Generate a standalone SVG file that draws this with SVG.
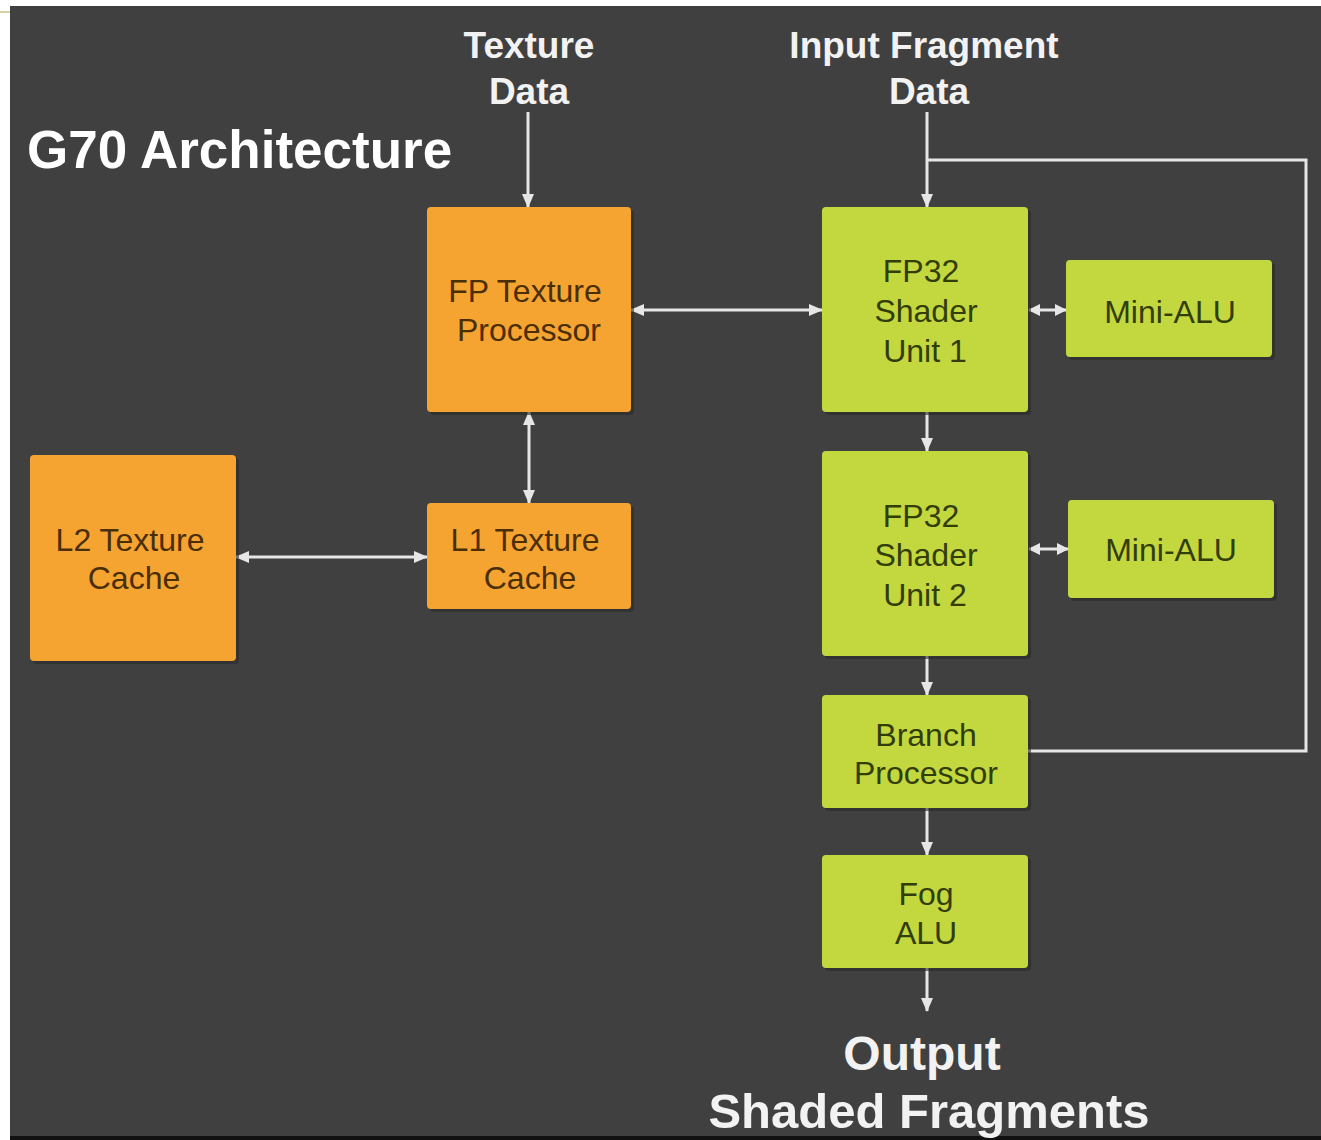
<svg xmlns="http://www.w3.org/2000/svg" width="1321" height="1140" viewBox="0 0 1321 1140">
<style>
.box-o{fill:#f6a431}
.box-g{fill:#c3d83f}
.shadow{fill:#2a2a2a;opacity:0.6}
.t-o{font-family:"Liberation Sans",Arial,sans-serif;font-size:32px;fill:#4a2f06;text-anchor:middle}
.t-g{font-family:"Liberation Sans",Arial,sans-serif;font-size:32px;fill:#323d08;text-anchor:middle}
.lbl{font-family:"Liberation Sans",Arial,sans-serif;font-weight:bold;fill:#f2f2f2;text-anchor:middle}
.conn{stroke:#e6e6e6;stroke-width:3;fill:none}
</style>
<defs>
<marker id="ah" viewBox="0 0 14 12" refX="13" refY="6" markerWidth="14" markerHeight="12" markerUnits="userSpaceOnUse" orient="auto-start-reverse">
<path d="M0,0 L14,6 L0,12 z" fill="#e6e6e6"/>
</marker>
<marker id="ahs" viewBox="0 0 12 12" refX="11" refY="6" markerWidth="12" markerHeight="12" markerUnits="userSpaceOnUse" orient="auto-start-reverse">
<path d="M0,0 L12,6 L0,12 z" fill="#e6e6e6"/>
</marker>
</defs>
<rect x="0" y="0" width="1321" height="1140" fill="#ffffff"/>
<rect x="10" y="6" width="1311" height="1131" fill="#404040"/>
<rect x="10" y="1136" width="1311" height="4" fill="#111111"/>
<line x1="0" y1="12" x2="10" y2="12" stroke="#d6cf9e" stroke-width="2"/>

<text x="27" y="168" font-family="Liberation Sans, Arial, sans-serif" font-weight="bold" font-size="53" fill="#ffffff">G70 Architecture</text>

<g id="texture-data-label">
<text class="lbl" x="529" y="58" font-size="37">Texture</text>
<text class="lbl" x="529" y="104" font-size="37">Data</text>
</g>
<g id="input-fragment-label">
<text class="lbl" x="924" y="58" font-size="37">Input Fragment</text>
<text class="lbl" x="929" y="104" font-size="37">Data</text>
</g>
<g id="output-label">
<text class="lbl" x="922" y="1070" font-size="48">Output</text>
<text class="lbl" x="929" y="1128" font-size="49">Shaded Fragments</text>
</g>

<g id="connectors">
<line class="conn" x1="528" y1="112" x2="528" y2="207" marker-end="url(#ah)"/>
<line class="conn" x1="927" y1="112" x2="927" y2="207" marker-end="url(#ah)"/>
<polyline class="conn" points="927,160 1306,160 1306,751 1028,751"/>
<line class="conn" x1="631" y1="310" x2="822" y2="310" marker-start="url(#ah)" marker-end="url(#ah)"/>
<line class="conn" x1="529" y1="412" x2="529" y2="503" marker-start="url(#ah)" marker-end="url(#ah)"/>
<line class="conn" x1="236" y1="557" x2="427" y2="557" marker-start="url(#ah)" marker-end="url(#ah)"/>
<line class="conn" x1="1029" y1="310" x2="1066" y2="310" marker-start="url(#ahs)" marker-end="url(#ahs)"/>
<line class="conn" x1="1029" y1="549" x2="1068" y2="549" marker-start="url(#ahs)" marker-end="url(#ahs)"/>
<line class="conn" x1="927" y1="412" x2="927" y2="451" marker-end="url(#ah)"/>
<line class="conn" x1="927" y1="656" x2="927" y2="695" marker-end="url(#ah)"/>
<line class="conn" x1="927" y1="808" x2="927" y2="855" marker-end="url(#ah)"/>
<line class="conn" x1="927" y1="968" x2="927" y2="1011" marker-end="url(#ah)"/>
</g>

<g id="fp-texture-processor">
<rect class="shadow" x="430" y="210" width="204" height="205" rx="4"/>
<rect class="box-o" x="427" y="207" width="204" height="205" rx="4"/>
<text class="t-o" x="525" y="302">FP Texture</text>
<text class="t-o" x="529" y="341">Processor</text>
</g>
<g id="l1-texture-cache">
<rect class="shadow" x="430" y="506" width="204" height="106" rx="4"/>
<rect class="box-o" x="427" y="503" width="204" height="106" rx="4"/>
<text class="t-o" x="525" y="551">L1 Texture</text>
<text class="t-o" x="530" y="589">Cache</text>
</g>
<g id="l2-texture-cache">
<rect class="shadow" x="33" y="458" width="206" height="206" rx="4"/>
<rect class="box-o" x="30" y="455" width="206" height="206" rx="4"/>
<text class="t-o" x="130" y="551">L2 Texture</text>
<text class="t-o" x="134" y="589">Cache</text>
</g>
<g id="fp32-shader-unit-1">
<rect class="shadow" x="825" y="210" width="206" height="205" rx="4"/>
<rect class="box-g" x="822" y="207" width="206" height="205" rx="4"/>
<text class="t-g" x="921" y="282">FP32</text>
<text class="t-g" x="926" y="322">Shader</text>
<text class="t-g" x="925" y="362">Unit 1</text>
</g>
<g id="mini-alu-1">
<rect class="shadow" x="1069" y="263" width="206" height="97" rx="4"/>
<rect class="box-g" x="1066" y="260" width="206" height="97" rx="4"/>
<text class="t-g" x="1170" y="323">Mini-ALU</text>
</g>
<g id="fp32-shader-unit-2">
<rect class="shadow" x="825" y="454" width="206" height="205" rx="4"/>
<rect class="box-g" x="822" y="451" width="206" height="205" rx="4"/>
<text class="t-g" x="921" y="527">FP32</text>
<text class="t-g" x="926" y="566">Shader</text>
<text class="t-g" x="925" y="606">Unit 2</text>
</g>
<g id="mini-alu-2">
<rect class="shadow" x="1071" y="503" width="206" height="98" rx="4"/>
<rect class="box-g" x="1068" y="500" width="206" height="98" rx="4"/>
<text class="t-g" x="1171" y="561">Mini-ALU</text>
</g>
<g id="branch-processor">
<rect class="shadow" x="825" y="698" width="206" height="113" rx="4"/>
<rect class="box-g" x="822" y="695" width="206" height="113" rx="4"/>
<text class="t-g" x="926" y="746">Branch</text>
<text class="t-g" x="926" y="784">Processor</text>
</g>
<g id="fog-alu">
<rect class="shadow" x="825" y="858" width="206" height="113" rx="4"/>
<rect class="box-g" x="822" y="855" width="206" height="113" rx="4"/>
<text class="t-g" x="926" y="905">Fog</text>
<text class="t-g" x="926" y="944">ALU</text>
</g>
</svg>
